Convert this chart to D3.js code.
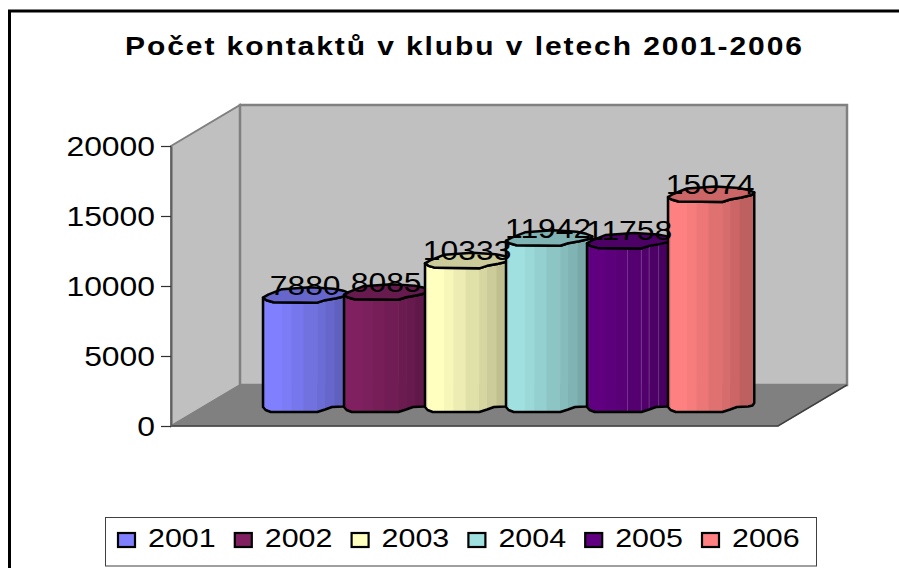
<!DOCTYPE html>
<html>
<head>
<meta charset="utf-8">
<script src="https://cdn.jsdelivr.net/npm/d3@7"></script>
<style>
html,body{margin:0;padding:0;background:#fff;overflow:hidden}
svg{display:block}
text{font-family:"Liberation Sans",Arial,sans-serif;fill:#000}
</style>
</head>
<body>
<svg id="chart" width="899" height="568"></svg>
<script>
const titleText = "Počet kontaktů v klubu v letech 2001-2006";
const years = ["2001","2002","2003","2004","2005","2006"];
const contacts = [7880,8085,10333,11942,11758,15074];
const barColors = ["#8080FF","#802060","#FFFFC0","#A0E0E0","#600080","#FF8080"];
const yTicks = [0,5000,10000,15000,20000];

const svg = d3.select("#chart");

// frame (its right and bottom edges fall outside the picture)
svg.append("path").attr("d","M9.5,568V11H899").attr("fill","none").attr("stroke","#000").attr("stroke-width",3);

// title
svg.append("text").text(titleText)
  .attr("font-size",25).attr("font-weight","bold")
  .attr("textLength",677/1.2).attr("lengthAdjust","spacing")
  .attr("transform","translate(125,54.5) scale(1.2,1)");

// scales
const y = d3.scaleLinear().domain([0,20000]).range([426,146]);
const x = d3.scaleBand().domain(years).range([263,749]).padding(0);
const depthX = 69, depthY = -41, plotL = 171, plotR = 778;
const barW = x.step()*1.065, baseY = y(0)-18;

const line = d3.line();
// walls and floor
svg.append("path").attr("d",line([[plotL,y(20000)],[plotL+depthX,y(20000)+depthY],[plotL+depthX,y(0)+depthY],[plotL,y(0)]])+"Z")
  .attr("fill","#C0C0C0").attr("stroke","#808080").attr("stroke-width",2);
svg.append("path").attr("d",line([[plotL+depthX,y(20000)+depthY],[plotR+depthX,y(20000)+depthY],[plotR+depthX,y(0)+depthY],[plotL+depthX,y(0)+depthY]])+"Z")
  .attr("fill","#C0C0C0").attr("stroke","#808080").attr("stroke-width",2.5);
svg.append("path").attr("d",line([[plotL,y(0)],[plotL+depthX,y(0)+depthY],[plotR+depthX,y(0)+depthY],[plotR,y(0)]])+"Z")
  .attr("fill","#808080").attr("stroke","#808080").attr("stroke-width",1);
svg.append("path").attr("d",line([[plotL,y(0)],[plotR,y(0)],[plotR+depthX,y(0)+depthY]])).attr("fill","none").attr("stroke","#404040").attr("stroke-width",1.5);

// axis
const axis = d3.axisLeft(y).tickValues(yTicks).tickSize(10).tickSizeOuter(0).tickFormat(d3.format("d"));
const gAxis = svg.append("g").attr("transform",`translate(${plotL},0)`).call(axis);
gAxis.select(".domain").attr("stroke","#606060").attr("stroke-width",2);
gAxis.selectAll(".tick line").attr("stroke","#303030").attr("stroke-width",1.2);
gAxis.selectAll(".tick text")
  .attr("x",0).attr("dy",0).attr("y",0)
  .attr("font-size",27).attr("text-anchor","end").attr("fill","#000").style("font-family",'"Liberation Sans",Arial,sans-serif')
  .attr("transform","translate(-16,9) scale(1.18,1)");

// cylinder shape, as fractions of bar width and pixel offsets from the edge height
const topFront = [[0,0],[.04,2.5],[.12,4.5],[.63,5],[.72,2.5],[.85,0.5],[.97,-2],[1,-4.5]];
const topBack = [[1,-4.5],[.93,-7],[.82,-9],[.55,-10.5],[.22,-8.5],[.06,-3],[0,0]];
const bottomFront = [[1,-5],[.98,-2.5],[.93,-1.5],[.8,-1],[.72,1.5],[.63,4],[.09,4],[.03,2],[0,-1]];
const facetStops = [0,.025,.22,.33,.47,.63,.72,.83,1];
const facetShade = [.93,1,.97,.93,.88,.84,.8,.75];

const defs = svg.append("defs");
const bars = svg.append("g");
years.forEach((yr,i)=>{
  const x0 = x(yr), topY = y(contacts[i]) - 18;
  const pt = (a,yb)=>a.map(p=>[x0+p[0]*barW,yb+p[1]]);
  const body = [...pt(topFront,topY),...pt(bottomFront,baseY)];
  const topFace = [...pt(topFront,topY),...pt(topBack,topY).slice(1)];
  const g = bars.append("g");
  const id = "bar"+i;
  defs.append("clipPath").attr("id",id).append("path").attr("d",line(body)+"Z");
  const base = d3.color(barColors[i]);
  const shade = k=>d3.rgb(base.r*k,base.g*k,base.b*k).formatHex();
  g.append("g").attr("clip-path",`url(#${id})`).selectAll("rect").data(facetShade).join("rect")
    .attr("x",(d,j)=>x0+facetStops[j]*barW)
    .attr("width",(d,j)=>(facetStops[j+1]-facetStops[j])*barW+.5)
    .attr("y",topY-15).attr("height",baseY-topY+30)
    .attr("fill",d=>shade(d));
  if(yr==="2005"){
    g.append("g").attr("clip-path",`url(#${id})`).selectAll("line").data(facetStops.slice(4,8)).join("line")
      .attr("x1",d=>x0+d*barW).attr("x2",d=>x0+d*barW).attr("y1",topY).attr("y2",baseY+6)
      .attr("stroke","#fff").attr("stroke-opacity",.2);
  }
  g.append("path").attr("d",line(body)+"Z").attr("fill","none").attr("stroke","#000").attr("stroke-width",2.5).attr("stroke-linejoin","round");
  g.append("path").attr("d",line(topFace)+"Z").attr("fill",shade(.8)).attr("stroke","#000").attr("stroke-width",2.5).attr("stroke-linejoin","round");
});

// value labels
svg.append("g").selectAll("text").data(contacts).join("text")
  .text(d=>d)
  .attr("font-size",27).attr("text-anchor","middle")
  .attr("transform",(d,i)=>`translate(${x(years[i])+barW/2-1},${y(d)-18-3}) scale(1.18,1)`);

// legend
svg.append("rect").attr("x",105.5).attr("y",517.5).attr("width",711).attr("height",48.5)
  .attr("fill","#fff").attr("stroke","#404040").attr("stroke-width",1);
const lg = d3.scaleBand().domain(years).range([117,117+6*116.8]);
const item = svg.append("g").selectAll("g").data(years).join("g")
  .attr("transform",d=>`translate(${lg(d)},0)`);
item.append("rect").attr("x",1).attr("y",533).attr("width",17).attr("height",14)
  .attr("fill",(d,i)=>barColors[i]).attr("stroke","#000").attr("stroke-width",2.2);
item.append("text").text(d=>d).attr("font-size",26)
  .attr("transform","translate(31,547) scale(1.17,1)");
</script>
</body>
</html>
